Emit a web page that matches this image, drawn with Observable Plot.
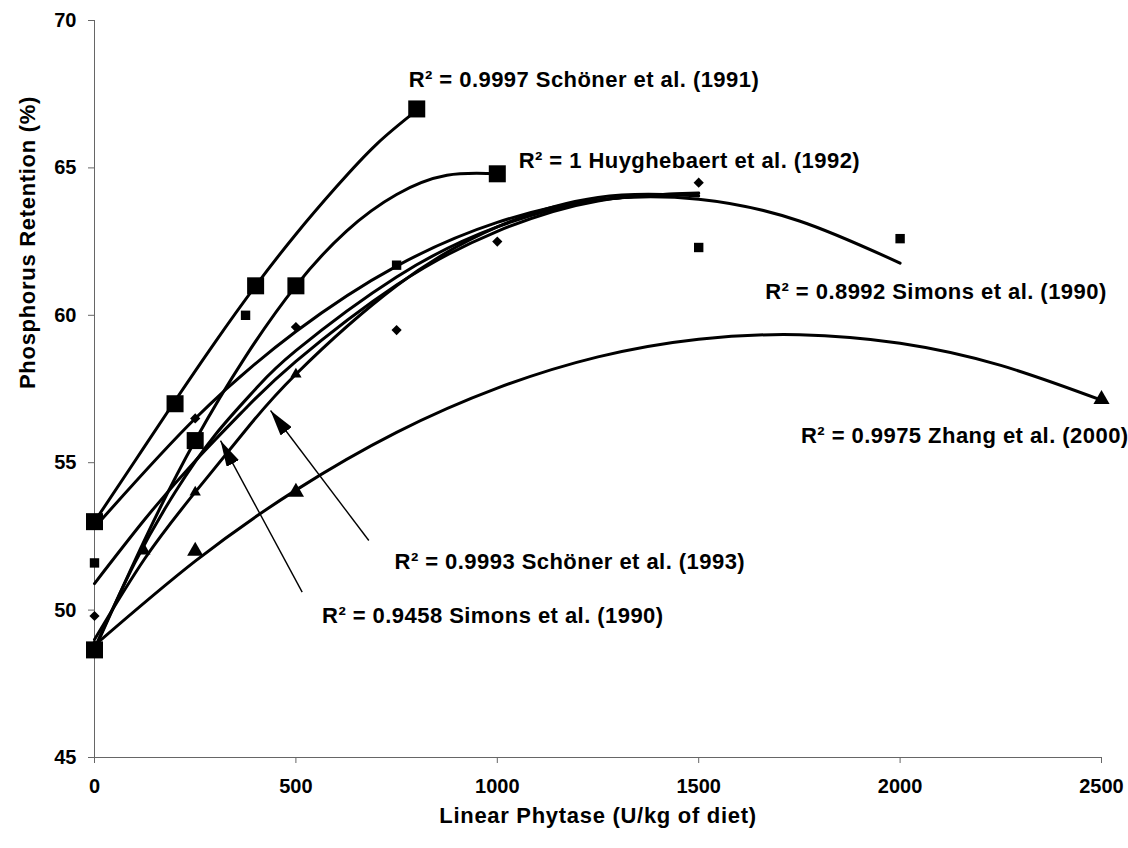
<!DOCTYPE html>
<html>
<head>
<meta charset="utf-8">
<script src="https://cdn.jsdelivr.net/npm/d3@7"></script>
<script src="https://cdn.jsdelivr.net/npm/@observablehq/plot@0.6"></script>
<style>
  body { margin: 0; background: #fff; }
  .fit-label text { letter-spacing: 0.45px; }
  .axis-title text { letter-spacing: 0.7px; }
</style>
</head>
<body>
<div id="chart"></div>
<script>
// Axis ticks
const xTicks = [0, 500, 1000, 1500, 2000, 2500];
const yTicks = [45, 50, 55, 60, 65, 70];

// Measured P retention (%) against phytase dose (U/kg of diet)
const schoner1991 = [[0, 53], [200, 57], [400, 61], [800, 67]];
const huyghebaert1992 = [[0, 48.65], [250, 55.75], [500, 61], [1000, 64.8]];
const simons1990a = [[0, 51.6], [375, 60], [750, 61.7], [1500, 62.3], [2000, 62.6]];
const simons1990b = [[0, 49.8], [250, 56.5], [500, 59.6], [750, 59.5], [1000, 62.5], [1500, 64.5]];
const schoner1993 = [[0, 48.7], [125, 52], [250, 54], [500, 58]];
const zhang2000 = [[0, 48.7], [250, 52], [500, 54], [2500, 57.15]];

// Polynomial trend lines
const schoner1991Fit = [[0, 53], [100, 55.05], [200, 57.1], [300, 59.1], [400, 61], [500, 62.75], [600, 64.35], [700, 65.8], [800, 66.95]];
const huyghebaert1992Fit = [[0, 48.65], [125, 52.4], [250, 55.75], [375, 58.6], [500, 61], [625, 62.85], [750, 64.1], [875, 64.75], [1000, 64.8]];
const simons1990aFit = [[0, 52.8], [250, 56.5], [500, 59.45], [750, 61.67], [1000, 63.15], [1250, 63.92], [1500, 63.94], [1750, 63.2], [2000, 61.77]];
const simons1990bFit = [[0, 50.9], [125, 53.08], [250, 55.06], [375, 56.84], [500, 58.44], [750, 61.03], [1000, 62.85], [1250, 63.88], [1500, 64.13]];
const schoner1993Fit = [[0, 49], [125, 51.75], [250, 54], [375, 56.1], [500, 58], [750, 61], [1000, 63], [1250, 64], [1500, 64.05]];
const pooledFit = [[0, 48.7], [100, 51.6], [200, 54], [300, 55.95], [400, 57.5], [500, 58.8], [750, 61.3], [1000, 63], [1250, 63.9], [1500, 64.15]];
const zhang2000Fit = [[0, 48.8], [250, 51.66], [500, 54.07], [750, 56.03], [1000, 57.53], [1250, 58.59], [1500, 59.19], [1750, 59.34], [2000, 59.05], [2250, 58.3], [2500, 57.12]];

// R² labels and where they sit (dose, retention of the label's left edge)
const fitLabels = [
  "R² = 0.9997 Schöner et al. (1991)",
  "R² = 1 Huyghebaert et al. (1992)",
  "R² = 0.8992 Simons et al. (1990)",
  "R² = 0.9975 Zhang et al. (2000)",
  "R² = 0.9993 Schöner et al. (1993)",
  "R² = 0.9458 Simons et al. (1990)"
];
const labelDose = [780, 1053, 1665, 1754, 745, 565];
const labelRet = [68.0, 65.25, 60.8, 55.9, 51.65, 49.8];

// Pointer arrows from two labels to their curves
const pointerFrom = [[681, 52.36], [515.6, 50.61]];
const pointerTo = [[437, 56.77], [312.8, 55.75]];

const toRows = (pts, study) => pts.map(([dose, ret]) => ({study, dose, ret}));

const fits = [
  toRows(schoner1991Fit, "schoner1991"),
  toRows(huyghebaert1992Fit, "huyghebaert1992"),
  toRows(simons1990aFit, "simons1990a"),
  toRows(simons1990bFit, "simons1990b"),
  toRows(schoner1993Fit, "schoner1993"),
  toRows(pooledFit, "pooled"),
  toRows(zhang2000Fit, "zhang2000")
].flat();

const labels = fitLabels.map((text, i) => ({text, dose: labelDose[i], ret: labelRet[i]}));
const pointers = pointerFrom.map((f, i) => ({x1: f[0], y1: f[1], x2: pointerTo[i][0], y2: pointerTo[i][1]}));

const pointStyle = {x: d => d[0], y: d => d[1], fill: "black", stroke: "none"};

const chart = Plot.plot({
  width: 1128,
  height: 848,
  marginLeft: 94,
  marginRight: 27,
  marginTop: 20,
  marginBottom: 91,
  style: {
    fontFamily: "'Liberation Sans', Arial, sans-serif",
    fontSize: "20px",
    fontWeight: "bold",
    background: "white",
    color: "black",
    overflow: "visible"
  },
  x: {domain: [0, 2500]},
  y: {domain: [45, 70]},
  marks: [
    Plot.ruleX([0], {stroke: "#666", strokeWidth: 1}),
    Plot.ruleY([45], {stroke: "#666", strokeWidth: 1}),
    Plot.axisX({ticks: xTicks, tickSize: 6, tickPadding: 15, stroke: "#666", fill: "black", label: null, tickFormat: d => String(d)}),
    Plot.axisY({ticks: yTicks, tickSize: 6, tickPadding: 12, stroke: "#666", fill: "black", label: null, tickFormat: d => String(d)}),
    Plot.line(fits, {x: "dose", y: "ret", z: "study", stroke: "black", strokeWidth: 3, curve: "natural", strokeLinejoin: "round", strokeLinecap: "round"}),
    Plot.dot(simons1990a, {...pointStyle, symbol: "square", r: 5.3}),
    Plot.dot(simons1990b, {...pointStyle, symbol: d3.symbolDiamond2, r: 4.6}),
    Plot.dot(schoner1993, {...pointStyle, symbol: "triangle", r: 4.2}),
    Plot.dot(zhang2000, {...pointStyle, symbol: "triangle", r: 6.0}),
    Plot.dot(schoner1991, {...pointStyle, symbol: "square", r: 9.6}),
    Plot.dot(huyghebaert1992, {...pointStyle, symbol: "square", r: 9.6}),
    Plot.link(pointers, {x1: "x1", y1: "y1", x2: "x2", y2: "y2", stroke: "black", strokeWidth: 1.4, className: "pointer"}),
    Plot.text(labels, {x: "dose", y: "ret", text: "text", textAnchor: "start", fontSize: 22, className: "fit-label"}),
    Plot.text(["Linear Phytase (U/kg of diet)"], {frameAnchor: "bottom", dy: 65, fontSize: 22, className: "axis-title"}),
    Plot.text(["Phosphorus Retention (%)"], {frameAnchor: "left", dx: -67, rotate: -90, fontSize: 22, className: "axis-title"})
  ]
});

// Filled arrowheads for the pointer lines
const ns = "http://www.w3.org/2000/svg";
const defs = document.createElementNS(ns, "defs");
defs.innerHTML = '<marker id="pointer-head" viewBox="0 0 26 14" refX="26" refY="7" markerWidth="26" markerHeight="14" markerUnits="userSpaceOnUse" orient="auto"><path d="M0,0L26,7L0,14Z" fill="black"/></marker>';
chart.prepend(defs);
chart.querySelectorAll('g[aria-label="link"] path, g[aria-label="link"] line').forEach(p => p.setAttribute("marker-end", "url(#pointer-head)"));

document.getElementById("chart").append(chart);
</script>
</body>
</html>
